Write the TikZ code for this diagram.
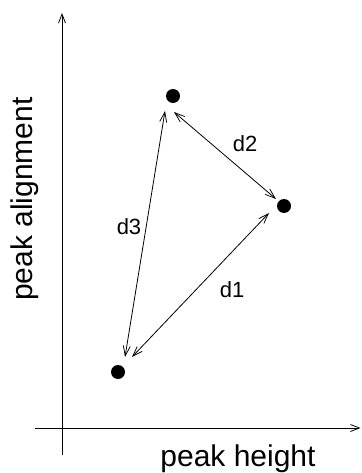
\documentclass[tikz,border=0pt]{standalone}
\usepackage{fontspec}
\setmainfont{Liberation Sans}
\usetikzlibrary{arrows.meta}
\begin{document}
\begin{tikzpicture}[x=1pt,y=-1pt,
  axis/.style={line width=1pt,-{Straight Barb[length=9pt,width=7pt,line width=0.8pt]}},
  dist/.style={line width=0.8pt,{Straight Barb[length=10pt,width=7pt,line width=0.75pt]}-{Straight Barb[length=10pt,width=7pt,line width=0.75pt]}},
  pt/.style={circle,fill=black,inner sep=0pt,minimum size=14pt},
  lab/.style={font=\fontsize{22}{22}\selectfont,inner sep=0pt},
  axlab/.style={font=\fontsize{30}{30}\selectfont,inner sep=0pt}]
\useasboundingbox (0,0) rectangle (361,473);
\coordinate (ybot) at (62,455);
\coordinate (ytop) at (62,13);
\coordinate (xleft) at (35,428);
\coordinate (xright) at (360.5,428);
\draw[axis] (ybot) -- (ytop);
\draw[axis] (xleft) -- (xright);
\node[pt] (p1) at (173,96) {};
\node[pt] (p2) at (284,206) {};
\node[pt] (p3) at (118,372) {};
\coordinate (d2a) at (174,112);
\coordinate (d2b) at (276,199);
\coordinate (d3a) at (165,111);
\coordinate (d3b) at (125,357);
\coordinate (d1a) at (269,213);
\coordinate (d1b) at (132,357);
\draw[dist] (d2a) -- (d2b);
\draw[dist] (d3a) -- (d3b);
\draw[dist] (d1a) -- (d1b);
\node[lab] (l2) at (245,144) {d2};
\node[lab] (l3) at (129,227) {d3};
\node[lab] (l1) at (232,290) {d1};
\node[axlab] (xl) at (238,459) {peak height};
\node[axlab,rotate=90] (yl) at (25,199) {peak alignment};
\end{tikzpicture}
\end{document}
